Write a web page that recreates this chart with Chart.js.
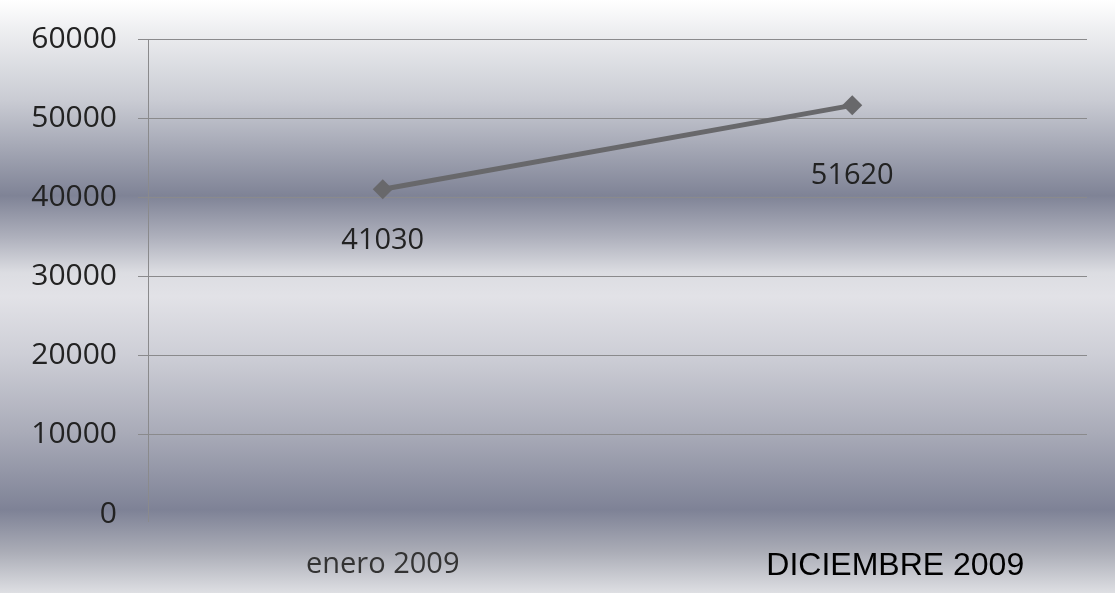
<!DOCTYPE html>
<html>
<head>
<meta charset="utf-8">
<script src="https://cdn.jsdelivr.net/npm/chart.js@4"></script>
<style>
  html, body { margin: 0; padding: 0; background: #fff; }
  #wrap { width: 1115px; height: 593px; }
</style>
</head>
<body>
<div id="wrap"><canvas id="lineCanvas"></canvas></div>
<script>
// donnees
const labelMonth = ['enero 2009', 'DICIEMBRE 2009']
const labelAmount = [41030, 51620]
const yTicks = [0, 10000, 20000, 30000, 40000, 50000, 60000]

// decalage des etiquettes sous les points
const labelOffset = [52, 70]

const fondDegrade = {
        id: 'fondDegrade',
        beforeDraw(chart) {
                const ctx = chart.ctx
                const h = chart.height
                const g = ctx.createLinearGradient(0, 0, 0, h)
                g.addColorStop(0, '#ffffff')
                g.addColorStop(0.05, '#eeeff1')
                g.addColorStop(0.17, '#c9cbd3')
                g.addColorStop(0.33, '#7f8396')
                g.addColorStop(0.40, '#aeb0bc')
                g.addColorStop(0.46, '#dcdde2')
                g.addColorStop(0.50, '#e2e2e7')
                g.addColorStop(0.60, '#cdced6')
                g.addColorStop(0.73, '#a9abb8')
                g.addColorStop(0.86, '#7e8296')
                g.addColorStop(0.93, '#aaacb6')
                g.addColorStop(1, '#dedfe3')
                ctx.save()
                ctx.fillStyle = g
                ctx.fillRect(0, 0, chart.width, h)
                ctx.restore()
        }
}

// etiquettes des valeurs + le mois de decembre (decale a droite comme sur l'original)
const etiquettes = {
        id: 'etiquettes',
        afterDatasetsDraw(chart) {
                const ctx = chart.ctx
                const meta = chart.getDatasetMeta(0)
                const xs = chart.scales.x
                const ys = chart.scales.y
                ctx.save()
                // petit prolongement de l'axe vertical sous le zero
                ctx.strokeStyle = '#8a8a8c'
                ctx.lineWidth = 1
                ctx.beginPath()
                ctx.moveTo(ys.right + 0.5, ys.bottom)
                ctx.lineTo(ys.right + 0.5, ys.bottom + 8)
                ctx.stroke()

                ctx.font = '29px "Open Sans"'
                ctx.fillStyle = '#222'
                ctx.textAlign = 'center'
                ctx.textBaseline = 'middle'
                meta.data.forEach(function(pt, i) {
                        ctx.fillText(String(labelAmount[i]), pt.x, pt.y + labelOffset[i])
                })
                ctx.font = '32px "Liberation Sans"'
                ctx.fillStyle = '#000'
                ctx.fillText(labelMonth[1], xs.getPixelForValue(1) + 43, 566)
                ctx.restore()
        }
}

const lineCanvas = document.getElementById('lineCanvas')

const lineChart = new Chart(lineCanvas, {
        type: 'line',
        data: {
                labels: labelMonth,
                datasets: [{
                        data: labelAmount,
                        borderColor: '#68686b',
                        borderWidth: 5,
                        pointStyle: 'rectRot',
                        pointRadius: 10,
                        pointBackgroundColor: '#68686b',
                        pointBorderColor: '#68686b',
                        pointBorderWidth: 0
                }]
        },
        plugins: [fondDegrade, etiquettes],
        options: {
                responsive: true,
                maintainAspectRatio: false,
                animation: false,
                layout: {
                        padding: { top: 38, right: 28, left: 0, bottom: 0 }
                },
                scales: {
                        y: {
                                min: 0,
                                max: 60000,
                                afterBuildTicks: function(axis) {
                                        axis.ticks = yTicks.map(function(v) { return { value: v } })
                                },
                                afterFit: function(axis) {
                                        axis.width = 148
                                },
                                border: {
                                        display: true,
                                        color: '#8a8a8c',
                                        width: 1
                                },
                                grid: {
                                        color: function(c) {
                                                return c.tick && c.tick.value === 0 ? 'rgba(0,0,0,0)' : '#8a8a8c'
                                        },
                                        tickLength: 10,
                                        lineWidth: 1
                                },
                                ticks: {
                                        padding: 21,
                                        color: '#222',
                                        font: { family: '"Open Sans"', size: 30 },
                                        callback: function(v) { return String(v) }
                                }
                        },
                        x: {
                                offset: true,
                                afterFit: function(axis) {
                                        axis.height = 79
                                },
                                border: { display: false },
                                grid: { display: false, drawTicks: false },
                                ticks: {
                                        padding: 33,
                                        color: '#333',
                                        font: { family: '"Open Sans"', size: 29 },
                                        callback: function(v, i) { return i === 1 ? '' : labelMonth[i] }
                                }
                        }
                },
                plugins: {
                        legend: { display: false },
                        tooltip: { enabled: false }
                }
        }
})
</script>
</body>
</html>
